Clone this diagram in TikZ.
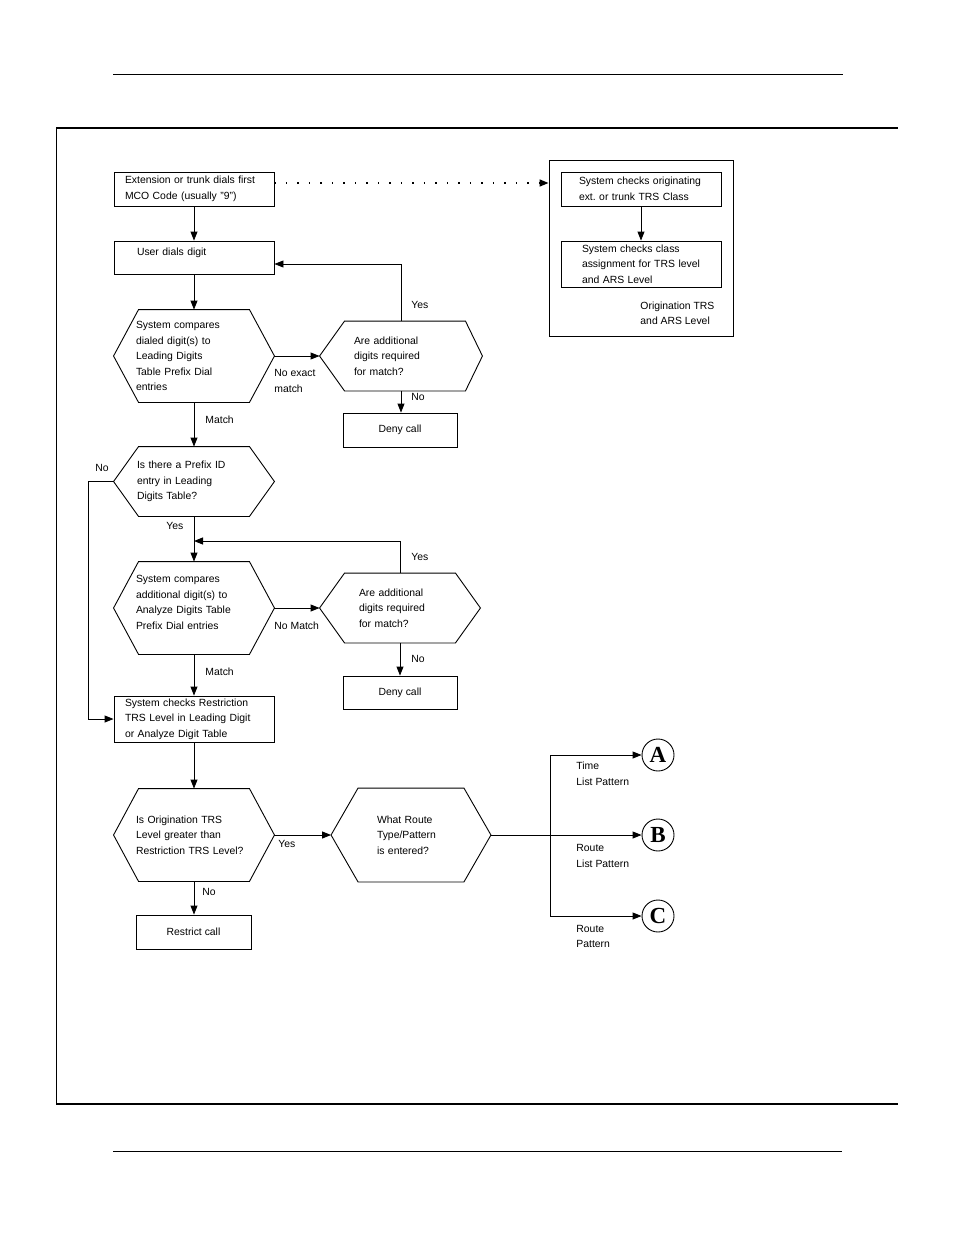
\documentclass[tikz,border=0pt]{standalone}
\usepackage{fontspec}
\setmainfont{Liberation Sans}
\newfontfamily\circfont{Liberation Serif}
\usepackage{tikz}
\usetikzlibrary{shapes,arrows,arrows.meta,positioning,calc}

\tikzset{
  box/.style={draw, rectangle, inner sep=0pt, minimum width=160pt, minimum height=34pt, align=left},
  hexnode/.style={rectangle, inner sep=0pt, minimum width=160pt, minimum height=69pt, align=left},
  lbl/.style={anchor=west, inner sep=0pt, align=left},
  endpt/.style={draw, circle, inner sep=0pt, minimum size=32pt, font=\circfont\bfseries\fontsize{23}{23}\selectfont},
  dots/.style={line width=1.5pt, dash pattern=on 1.5pt off 10pt},
}
% hexagon round a node: name, left inset, right inset
\newcommand{\hexa}[3]{\draw (#1.west) -- ([xshift=#2pt]#1.north west) -- ([xshift=-#3pt]#1.north east) -- (#1.east) -- ([xshift=-#3pt]#1.south east) -- ([xshift=#2pt]#1.south west) -- cycle;}

\begin{document}
\begin{tikzpicture}[x=1pt, y=-1pt, line width=0.9pt, >={Triangle[length=9pt,width=7pt]},
                    font=\fontsize{10.4}{15.5}\selectfont]
            \useasboundingbox (0,0) rectangle (954,1235);
            % page rules and frame
            \draw (113,74) -- (843,74);
            \draw[line width=2pt] (56,127.5) -- (898,127.5);
            \draw[line width=1pt] (56,127.5) -- (56,1103.5);
            \draw[line width=2pt] (56,1103.5) -- (898,1103.5);
            \draw (113,1151) -- (842,1151);

            % main column
            \node[box, text width=138pt] (dial) at (194,189) {Extension or trunk dials first\\MCO Code (usually "9")};
            \node[box, minimum height=33pt, text width=114pt, text depth=11pt] (user) at (194,257.5) {User dials digit};
            \node[hexnode, minimum height=92pt, text width=116pt] (cmp1) at (194,356) {System compares\\dialed digit(s) to\\Leading Digits\\Table Prefix Dial\\entries};
            \node[hexnode, minimum width=162pt, text width=94pt] (more1) at (401,356) {Are additional\\digits required\\for match?};
            \node[box, minimum width=114pt] (deny1) at (400,430) {Deny call};
            \node[hexnode, text width=114pt] (prefix) at (194,481.5) {Is there a Prefix ID\\entry in Leading\\Digits Table?};
            \node[hexnode, minimum height=92pt, text width=116pt, text depth=58pt] (cmp2) at (194,608) {System compares\\additional digit(s) to\\Analyze Digits Table\\Prefix Dial entries};
            \node[hexnode, text width=82pt] (more2) at (400,608) {Are additional\\digits required\\for match?};
            \node[box, minimum width=114pt, minimum height=33pt] (deny2) at (400,692.5) {Deny call};
            \node[box, minimum height=46pt, text width=138pt] (restr) at (194,719) {System checks Restriction\\TRS Level in Leading Digit\\or Analyze Digit Table};
            \node[hexnode, minimum height=92pt, text width=116pt] (level) at (194,835) {Is Origination TRS\\Level greater than\\Restriction TRS Level?};
            \node[hexnode, minimum width=159pt, minimum height=93pt, text width=68pt] (route) at (411,835) {What Route\\Type/Pattern\\is entered?};
            \node[box, minimum width=115pt] (restrict) at (193.5,932) {Restrict call};
            \hexa{cmp1}{25}{25}
            \hexa{more1}{25}{17}
            \hexa{prefix}{25}{25}
            \hexa{cmp2}{25}{25}
            \hexa{more2}{25}{25}
            \hexa{level}{25}{25}
            \hexa{route}{27}{27}

            % origination block
            \node[draw, rectangle, minimum width=184pt, minimum height=176pt] (orig) at (641,248) {};
            \node[box, text width=124pt] (chk1) at (641,189) {System checks originating\\ext.\ or trunk TRS Class};
            \node[box, minimum height=46pt, text width=118pt] (chk2) at (641,264) {System checks class\\assignment for TRS level\\and ARS Level};
            \node[lbl] (origlbl) at (640,313.5) {Origination TRS\\and ARS Level};

            % route endings
            \coordinate (fork) at (550,835);
            \coordinate (back) at (194,541);
            \node[endpt] (pa) at (658,755) {A};
            \node[endpt] (pb) at (658,835) {B};
            \node[endpt] (pc) at (658,916) {C};

            % connectors
            \draw[->] (dial) -- (user);
            \draw[->] (user) -- (cmp1);
            \draw[->] (cmp1.east) -- (more1.west);
            \draw[->] (more1.north) |- ([yshift=-6.5pt]user.east);
            \draw[->] (more1.south) -- (more1.south |- deny1.north);
            \draw[->] (cmp1) -- (prefix);
            \draw[->] (prefix.west) -- ++(-25,0) |- (restr.west);
            \draw[->] (prefix) -- (cmp2);
            \draw[->] (more2.north) |- (back);
            \draw[->] (cmp2.east) -- (more2.west);
            \draw[->] (more2) -- (deny2);
            \draw[->] (cmp2) -- (restr);
            \draw[->] (restr) -- (level);
            \draw[->] (level.east) -- (route.west);
            \draw[->] (level.south) -- (level.south |- restrict.north);
            \draw (route.east) -- (fork);
            \draw[->] (fork) |- (pa.west);
            \draw[->] (fork) -- (pb.west);
            \draw[->] (fork) |- (pc.west);
            \draw[->] (chk1) -- (chk2);
            \draw[dots, ->] ([yshift=6pt]dial.east) -- ([yshift=6pt]dial.east -| orig.west);

            % connector labels
            \node[lbl] (yes1) at (411,305) {Yes};
            \node[lbl] (nomatch1) at (274,381) {No exact\\match};
            \node[lbl] (no1) at (411,397) {No};
            \node[lbl] (match1) at (205,420) {Match};
            \node[lbl] (no2) at (95,468) {No};
            \node[lbl] (yes2) at (166,525.5) {Yes};
            \node[lbl] (yes3) at (411,556.5) {Yes};
            \node[lbl] (nomatch2) at (274,626) {No Match};
            \node[lbl] (no3) at (411,658.5) {No};
            \node[lbl] (match2) at (205,672) {Match};
            \node[lbl] (yes4) at (278,843.5) {Yes};
            \node[lbl] (no4) at (202,891.5) {No};
            \node[lbl] (lbla) at (576,774) {Time\\List Pattern};
            \node[lbl] (lblb) at (576,856) {Route\\List Pattern};
            \node[lbl] (lblc) at (576,936.5) {Route\\Pattern};
\end{tikzpicture}
\end{document}
